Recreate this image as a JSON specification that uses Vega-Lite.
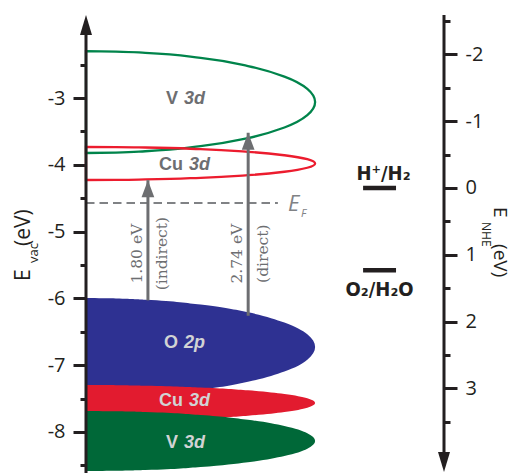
{
  "$schema": "https://vega.github.io/schema/vega-lite/v6.json",
  "width": 358,
  "height": 458,
  "autosize": {"type": "none"},
  "padding": {"left": 86, "top": 15, "right": 69, "bottom": 0},
  "background": "white",
  "config": {"view": {"stroke": null}, "font": "Open Sans"},
  "datasets": {
    "bands": [
      {"band": "V 3d", "state": "empty", "E": -2.297, "w": 0},
      {"band": "V 3d", "state": "empty", "E": -2.304, "w": 8.35},
      {"band": "V 3d", "state": "empty", "E": -2.323, "w": 16.56},
      {"band": "V 3d", "state": "empty", "E": -2.399, "w": 32},
      {"band": "V 3d", "state": "empty", "E": -2.521, "w": 45.25},
      {"band": "V 3d", "state": "empty", "E": -2.679, "w": 55.42},
      {"band": "V 3d", "state": "empty", "E": -2.863, "w": 61.82},
      {"band": "V 3d", "state": "empty", "E": -3.06, "w": 64},
      {"band": "V 3d", "state": "empty", "E": -3.257, "w": 61.82},
      {"band": "V 3d", "state": "empty", "E": -3.441, "w": 55.42},
      {"band": "V 3d", "state": "empty", "E": -3.599, "w": 45.25},
      {"band": "V 3d", "state": "empty", "E": -3.721, "w": 32},
      {"band": "V 3d", "state": "empty", "E": -3.797, "w": 16.56},
      {"band": "V 3d", "state": "empty", "E": -3.816, "w": 8.35},
      {"band": "V 3d", "state": "empty", "E": -3.823, "w": 0},
      {"band": "Cu 3d", "state": "empty", "E": -3.733, "w": 0},
      {"band": "Cu 3d", "state": "empty", "E": -3.735, "w": 8.35},
      {"band": "Cu 3d", "state": "empty", "E": -3.741, "w": 16.56},
      {"band": "Cu 3d", "state": "empty", "E": -3.766, "w": 32},
      {"band": "Cu 3d", "state": "empty", "E": -3.805, "w": 45.25},
      {"band": "Cu 3d", "state": "empty", "E": -3.857, "w": 55.42},
      {"band": "Cu 3d", "state": "empty", "E": -3.916, "w": 61.82},
      {"band": "Cu 3d", "state": "empty", "E": -3.98, "w": 64},
      {"band": "Cu 3d", "state": "empty", "E": -4.044, "w": 61.82},
      {"band": "Cu 3d", "state": "empty", "E": -4.104, "w": 55.42},
      {"band": "Cu 3d", "state": "empty", "E": -4.155, "w": 45.25},
      {"band": "Cu 3d", "state": "empty", "E": -4.194, "w": 32},
      {"band": "Cu 3d", "state": "empty", "E": -4.219, "w": 16.56},
      {"band": "Cu 3d", "state": "empty", "E": -4.225, "w": 8.35},
      {"band": "Cu 3d", "state": "empty", "E": -4.227, "w": 0},
      {"band": "O 2p", "state": "filled", "E": -5.994, "w": 0},
      {"band": "O 2p", "state": "filled", "E": -6.0, "w": 8.35},
      {"band": "O 2p", "state": "filled", "E": -6.019, "w": 16.56},
      {"band": "O 2p", "state": "filled", "E": -6.092, "w": 32},
      {"band": "O 2p", "state": "filled", "E": -6.209, "w": 45.25},
      {"band": "O 2p", "state": "filled", "E": -6.361, "w": 55.42},
      {"band": "O 2p", "state": "filled", "E": -6.538, "w": 61.82},
      {"band": "O 2p", "state": "filled", "E": -6.728, "w": 64},
      {"band": "O 2p", "state": "filled", "E": -6.918, "w": 61.82},
      {"band": "O 2p", "state": "filled", "E": -7.095, "w": 55.42},
      {"band": "O 2p", "state": "filled", "E": -7.247, "w": 45.25},
      {"band": "O 2p", "state": "filled", "E": -7.364, "w": 32},
      {"band": "O 2p", "state": "filled", "E": -7.437, "w": 16.56},
      {"band": "O 2p", "state": "filled", "E": -7.456, "w": 8.35},
      {"band": "O 2p", "state": "filled", "E": -7.462, "w": 0},
      {"band": "Cu 3d", "state": "filled", "E": -7.297, "w": 0},
      {"band": "Cu 3d", "state": "filled", "E": -7.299, "w": 8.35},
      {"band": "Cu 3d", "state": "filled", "E": -7.306, "w": 16.56},
      {"band": "Cu 3d", "state": "filled", "E": -7.333, "w": 32},
      {"band": "Cu 3d", "state": "filled", "E": -7.376, "w": 45.25},
      {"band": "Cu 3d", "state": "filled", "E": -7.432, "w": 55.42},
      {"band": "Cu 3d", "state": "filled", "E": -7.496, "w": 61.82},
      {"band": "Cu 3d", "state": "filled", "E": -7.566, "w": 64},
      {"band": "Cu 3d", "state": "filled", "E": -7.636, "w": 61.82},
      {"band": "Cu 3d", "state": "filled", "E": -7.7, "w": 55.42},
      {"band": "Cu 3d", "state": "filled", "E": -7.756, "w": 45.25},
      {"band": "Cu 3d", "state": "filled", "E": -7.799, "w": 32},
      {"band": "Cu 3d", "state": "filled", "E": -7.826, "w": 16.56},
      {"band": "Cu 3d", "state": "filled", "E": -7.833, "w": 8.35},
      {"band": "Cu 3d", "state": "filled", "E": -7.835, "w": 0},
      {"band": "V 3d", "state": "filled", "E": -7.686, "w": 0},
      {"band": "V 3d", "state": "filled", "E": -7.69, "w": 8.35},
      {"band": "V 3d", "state": "filled", "E": -7.701, "w": 16.56},
      {"band": "V 3d", "state": "filled", "E": -7.746, "w": 32},
      {"band": "V 3d", "state": "filled", "E": -7.818, "w": 45.25},
      {"band": "V 3d", "state": "filled", "E": -7.911, "w": 55.42},
      {"band": "V 3d", "state": "filled", "E": -8.019, "w": 61.82},
      {"band": "V 3d", "state": "filled", "E": -8.135, "w": 64},
      {"band": "V 3d", "state": "filled", "E": -8.251, "w": 61.82},
      {"band": "V 3d", "state": "filled", "E": -8.36, "w": 55.42},
      {"band": "V 3d", "state": "filled", "E": -8.453, "w": 45.25},
      {"band": "V 3d", "state": "filled", "E": -8.524, "w": 32},
      {"band": "V 3d", "state": "filled", "E": -8.569, "w": 16.56},
      {"band": "V 3d", "state": "filled", "E": -8.58, "w": 8.35},
      {"band": "V 3d", "state": "filled", "E": -8.584, "w": 0}
    ],
    "bandLabels": [
      {"atom": "V", "shell": "3d", "state": "empty", "E": -3.01},
      {"atom": "Cu", "shell": "3d", "state": "empty", "E": -4.0},
      {"atom": "O", "shell": "2p", "state": "filled", "E": -6.67},
      {"atom": "Cu", "shell": "3d", "state": "filled", "E": -7.54},
      {"atom": "V", "shell": "3d", "state": "filled", "E": -8.16}
    ],
    "transitions": [
      {"gap": "1.80 eV", "kind": "(indirect)", "k": 17.3, "from": -6.03, "to": -4.23},
      {"gap": "2.74 eV", "kind": "(direct)", "k": 45.3, "from": -6.26, "to": -3.52}
    ],
    "redox": [
      {"couple": "H⁺/H₂", "NHE": 0},
      {"couple": "O₂/H₂O", "NHE": 1.23}
    ]
  },
  "layer": [
    {
      "resolve": {"axis": {"y": "independent"}},
      "layer": [
        {
          "data": {"name": "bands"},
          "transform": [{"filter": "datum.state === 'filled' && datum.band === 'O 2p'"}],
          "mark": {"type": "area", "orient": "horizontal", "interpolate": "monotone", "color": "#2e3192"},
          "encoding": {
            "y": {
              "field": "E", "type": "quantitative",
              "scale": {"domain": [-8.614, -1.757], "nice": false, "zero": false},
              "axis": {
                "orient": "left",
                "values": [-8, -7, -6, -5, -4, -3],
                "labelExpr": "'' + datum.value",
                "tickSize": 13,
                "tickWidth": 3,
                "tickColor": "#231f20",
                "domain": false,
                "grid": false,
                "labelFont": "Open Sans",
                "labelFontSize": 20,
                "labelColor": "#231f20",
                "labelPadding": 8,
                "labelOverlap": false,
                "title": null
              }
            },
            "x": {"field": "w", "type": "quantitative", "scale": {"domain": [0, 100], "nice": false, "zero": false}, "axis": null},
            "x2": {"datum": 0}
          }
        },
        {
          "data": {"name": "bands"},
          "transform": [{"filter": "datum.state === 'filled' && datum.band === 'Cu 3d'"}],
          "mark": {"type": "area", "orient": "horizontal", "interpolate": "monotone", "color": "#e21b2f"},
          "encoding": {
            "y": {
              "field": "E", "type": "quantitative",
              "scale": {"domain": [-8.614, -1.757], "nice": false, "zero": false},
              "axis": {
                "orient": "left",
                "values": [-8.5, -7.5, -6.5, -5.5, -4.5, -3.5, -2.5],
                "labels": false,
                "tickSize": 6,
                "tickWidth": 3,
                "tickColor": "#231f20",
                "domain": false,
                "grid": false,
                "title": null
              }
            },
            "x": {"field": "w", "type": "quantitative", "scale": {"domain": [0, 100], "nice": false, "zero": false}, "axis": null},
            "x2": {"datum": 0}
          }
        },
        {
          "data": {"name": "bands"},
          "transform": [{"filter": "datum.state === 'filled' && datum.band === 'V 3d'"}],
          "mark": {"type": "area", "orient": "horizontal", "interpolate": "monotone", "color": "#006838"},
          "encoding": {
            "y": {"field": "E", "type": "quantitative", "scale": {"domain": [-8.614, -1.757], "nice": false, "zero": false}, "axis": null},
            "x": {"field": "w", "type": "quantitative", "scale": {"domain": [0, 100], "nice": false, "zero": false}, "axis": null},
            "x2": {"datum": 0}
          }
        },
        {
          "data": {"name": "bands"},
          "transform": [{"filter": "datum.state === 'empty' && datum.band === 'V 3d'"}],
          "mark": {"type": "area", "orient": "horizontal", "interpolate": "monotone", "fillOpacity": 0, "stroke": "#00844b", "strokeWidth": 2.3},
          "encoding": {
            "y": {"field": "E", "type": "quantitative", "scale": {"domain": [-8.614, -1.757], "nice": false, "zero": false}, "axis": null},
            "x": {"field": "w", "type": "quantitative", "scale": {"domain": [0, 100], "nice": false, "zero": false}, "axis": null},
            "x2": {"datum": 0}
          }
        },
        {
          "data": {"name": "bands"},
          "transform": [{"filter": "datum.state === 'empty' && datum.band === 'Cu 3d'"}],
          "mark": {"type": "area", "orient": "horizontal", "interpolate": "monotone", "fillOpacity": 0, "stroke": "#ec1c2e", "strokeWidth": 2.3},
          "encoding": {
            "y": {"field": "E", "type": "quantitative", "scale": {"domain": [-8.614, -1.757], "nice": false, "zero": false}, "axis": null},
            "x": {"field": "w", "type": "quantitative", "scale": {"domain": [0, 100], "nice": false, "zero": false}, "axis": null},
            "x2": {"datum": 0}
          }
        },
        {
          "data": {"values": [{"level": "Fermi", "E": -4.572}]},
          "mark": {"type": "rule", "color": "#808285", "strokeWidth": 2, "strokeDash": [8.5, 5]},
          "encoding": {
            "y": {"field": "E", "type": "quantitative", "scale": {"domain": [-8.614, -1.757], "nice": false, "zero": false}, "axis": null},
            "x": {"datum": 0, "type": "quantitative", "scale": {"domain": [0, 100], "nice": false, "zero": false}, "axis": null},
            "x2": {"datum": 53.6}
          }
        },
        {
          "data": {"values": [{"level": "Fermi", "E": -4.572}]},
          "mark": {"type": "text", "font": "Open Sans", "fontStyle": "italic", "fontSize": 22, "color": "#808285", "align": "left", "baseline": "alphabetic", "dx": 10, "dy": 8},
          "encoding": {
            "text": {"value": "E"},
            "y": {"field": "E", "type": "quantitative", "scale": {"domain": [-8.614, -1.757], "nice": false, "zero": false}, "axis": null},
            "x": {"datum": 53.6, "type": "quantitative", "scale": {"domain": [0, 100], "nice": false, "zero": false}, "axis": null}
          }
        },
        {
          "data": {"values": [{"level": "Fermi", "E": -4.572}]},
          "mark": {"type": "text", "font": "Open Sans", "fontStyle": "italic", "fontSize": 11, "color": "#808285", "align": "left", "baseline": "alphabetic", "dx": 23, "dy": 14},
          "encoding": {
            "text": {"value": "F"},
            "y": {"field": "E", "type": "quantitative", "scale": {"domain": [-8.614, -1.757], "nice": false, "zero": false}, "axis": null},
            "x": {"datum": 53.6, "type": "quantitative", "scale": {"domain": [0, 100], "nice": false, "zero": false}, "axis": null}
          }
        },
        {
          "data": {"name": "transitions"},
          "mark": {"type": "rule", "color": "#6d6e71", "strokeWidth": 3},
          "encoding": {
            "x": {"field": "k", "type": "quantitative", "scale": {"domain": [0, 100], "nice": false, "zero": false}, "axis": null},
            "y": {"field": "from", "type": "quantitative", "scale": {"domain": [-8.614, -1.757], "nice": false, "zero": false}, "axis": null},
            "y2": {"field": "to"}
          }
        },
        {
          "data": {"name": "transitions"},
          "mark": {"type": "point", "shape": "M0,0L0.75,2L-0.75,2Z", "size": 289, "filled": true, "opacity": 1, "color": "#6d6e71", "strokeWidth": 0},
          "encoding": {
            "x": {"field": "k", "type": "quantitative", "scale": {"domain": [0, 100], "nice": false, "zero": false}, "axis": null},
            "y": {"field": "to", "type": "quantitative", "scale": {"domain": [-8.614, -1.757], "nice": false, "zero": false}, "axis": null}
          }
        },
        {
          "data": {"name": "transitions"},
          "mark": {"type": "text", "font": "DejaVu Serif", "fontSize": 15.5, "color": "#6d6e71", "angle": 270, "align": "center", "baseline": "middle", "dy": -11},
          "encoding": {
            "text": {"field": "gap"},
            "x": {"field": "k", "type": "quantitative", "scale": {"domain": [0, 100], "nice": false, "zero": false}, "axis": null},
            "y": {"datum": -5.33, "type": "quantitative", "scale": {"domain": [-8.614, -1.757], "nice": false, "zero": false}, "axis": null}
          }
        },
        {
          "data": {"name": "transitions"},
          "mark": {"type": "text", "font": "DejaVu Serif", "fontSize": 15.5, "color": "#6d6e71", "angle": 270, "align": "center", "baseline": "middle", "dy": 14.5},
          "encoding": {
            "text": {"field": "kind"},
            "x": {"field": "k", "type": "quantitative", "scale": {"domain": [0, 100], "nice": false, "zero": false}, "axis": null},
            "y": {"datum": -5.33, "type": "quantitative", "scale": {"domain": [-8.614, -1.757], "nice": false, "zero": false}, "axis": null}
          }
        },
        {
          "data": {"name": "bandLabels"},
          "transform": [{"filter": "datum.atom !== 'Cu'"}],
          "mark": {"type": "text", "font": "Liberation Sans", "fontWeight": "bold", "fontSize": 18, "align": "right", "baseline": "middle", "dx": -6},
          "encoding": {
            "text": {"field": "atom"},
            "color": {"condition": {"test": "datum.state === 'filled'", "value": "#d1d3d4"}, "value": "#6d6e71"},
            "x": {"datum": 27.4, "type": "quantitative", "scale": {"domain": [0, 100], "nice": false, "zero": false}, "axis": null},
            "y": {"field": "E", "type": "quantitative", "scale": {"domain": [-8.614, -1.757], "nice": false, "zero": false}, "axis": null}
          }
        },
        {
          "data": {"name": "bandLabels"},
          "transform": [{"filter": "datum.atom !== 'Cu'"}],
          "mark": {"type": "text", "font": "Liberation Sans", "fontWeight": "bold", "fontStyle": "italic", "fontSize": 18, "align": "left", "baseline": "middle"},
          "encoding": {
            "text": {"field": "shell"},
            "color": {"condition": {"test": "datum.state === 'filled'", "value": "#d1d3d4"}, "value": "#6d6e71"},
            "x": {"datum": 27.4, "type": "quantitative", "scale": {"domain": [0, 100], "nice": false, "zero": false}, "axis": null},
            "y": {"field": "E", "type": "quantitative", "scale": {"domain": [-8.614, -1.757], "nice": false, "zero": false}, "axis": null}
          }
        },
        {
          "data": {"name": "bandLabels"},
          "transform": [{"filter": "datum.atom === 'Cu'"}],
          "mark": {"type": "text", "font": "Liberation Sans", "fontWeight": "bold", "fontSize": 18, "align": "right", "baseline": "middle", "dx": -6},
          "encoding": {
            "text": {"field": "atom"},
            "color": {"condition": {"test": "datum.state === 'filled'", "value": "#d1d3d4"}, "value": "#6d6e71"},
            "x": {"datum": 28.8, "type": "quantitative", "scale": {"domain": [0, 100], "nice": false, "zero": false}, "axis": null},
            "y": {"field": "E", "type": "quantitative", "scale": {"domain": [-8.614, -1.757], "nice": false, "zero": false}, "axis": null}
          }
        },
        {
          "data": {"name": "bandLabels"},
          "transform": [{"filter": "datum.atom === 'Cu'"}],
          "mark": {"type": "text", "font": "Liberation Sans", "fontWeight": "bold", "fontStyle": "italic", "fontSize": 18, "align": "left", "baseline": "middle"},
          "encoding": {
            "text": {"field": "shell"},
            "color": {"condition": {"test": "datum.state === 'filled'", "value": "#d1d3d4"}, "value": "#6d6e71"},
            "x": {"datum": 28.8, "type": "quantitative", "scale": {"domain": [0, 100], "nice": false, "zero": false}, "axis": null},
            "y": {"field": "E", "type": "quantitative", "scale": {"domain": [-8.614, -1.757], "nice": false, "zero": false}, "axis": null}
          }
        },
        {
          "data": {"values": [{"t": "E"}]},
          "mark": {"type": "text", "font": "Open Sans", "fontSize": 21, "color": "#231f20", "angle": 270, "align": "left", "baseline": "alphabetic"},
          "encoding": {
            "text": {"field": "t"},
            "x": {"datum": -15.64, "type": "quantitative", "scale": {"domain": [0, 100], "nice": false, "zero": false}, "axis": null},
            "y": {"datum": -5.74, "type": "quantitative", "scale": {"domain": [-8.614, -1.757], "nice": false, "zero": false}, "axis": null}
          }
        },
        {
          "data": {"values": [{"t": "vac"}]},
          "mark": {"type": "text", "font": "Open Sans", "fontSize": 13, "color": "#231f20", "angle": 270, "align": "left", "baseline": "alphabetic"},
          "encoding": {
            "text": {"field": "t"},
            "x": {"datum": -13.41, "type": "quantitative", "scale": {"domain": [0, 100], "nice": false, "zero": false}, "axis": null},
            "y": {"datum": -5.47, "type": "quantitative", "scale": {"domain": [-8.614, -1.757], "nice": false, "zero": false}, "axis": null}
          }
        },
        {
          "data": {"values": [{"t": "(eV)"}]},
          "mark": {"type": "text", "font": "Open Sans", "fontSize": 21, "color": "#231f20", "angle": 270, "align": "left", "baseline": "alphabetic"},
          "encoding": {
            "text": {"field": "t"},
            "x": {"datum": -15.64, "type": "quantitative", "scale": {"domain": [0, 100], "nice": false, "zero": false}, "axis": null},
            "y": {"datum": -5.216, "type": "quantitative", "scale": {"domain": [-8.614, -1.757], "nice": false, "zero": false}, "axis": null}
          }
        },
        {
          "data": {"values": [{"axis": "E_vac"}]},
          "mark": {"type": "rule", "color": "#231f20", "strokeWidth": 3},
          "encoding": {
            "x": {"datum": 0, "type": "quantitative", "scale": {"domain": [0, 100], "nice": false, "zero": false}, "axis": null},
            "y": {"datum": -1.95, "type": "quantitative", "scale": {"domain": [-8.614, -1.757], "nice": false, "zero": false}, "axis": null},
            "y2": {"datum": -8.614}
          }
        },
        {
          "data": {"values": [{"axis": "E_vac"}]},
          "mark": {"type": "point", "shape": "M0,0L0.6,2L-0.6,2Z", "size": 400, "filled": true, "opacity": 1, "color": "#231f20", "strokeWidth": 0},
          "encoding": {
            "x": {"datum": 0, "type": "quantitative", "scale": {"domain": [0, 100], "nice": false, "zero": false}, "axis": null},
            "y": {"datum": -1.757, "type": "quantitative", "scale": {"domain": [-8.614, -1.757], "nice": false, "zero": false}, "axis": null}
          }
        }
      ]
    },
    {
      "resolve": {"axis": {"y": "independent"}},
      "layer": [
        {
          "data": {"name": "redox"},
          "mark": {"type": "rule", "color": "#231f20", "strokeWidth": 4.5},
          "encoding": {
            "y": {
              "field": "NHE", "type": "quantitative",
              "scale": {"domain": [-2.59, 4.267], "reverse": true, "nice": false, "zero": false},
              "axis": {
                "orient": "right",
                "values": [-2, -1, 0, 1, 2, 3],
                "labelExpr": "'' + datum.value",
                "tickSize": 13,
                "tickWidth": 3,
                "tickColor": "#231f20",
                "domain": false,
                "grid": false,
                "labelFont": "Open Sans",
                "labelFontSize": 20,
                "labelColor": "#231f20",
                "labelPadding": 8,
                "labelOverlap": false,
                "title": null
              }
            },
            "x": {"datum": 77.4, "type": "quantitative", "scale": {"domain": [0, 100], "nice": false, "zero": false}, "axis": null},
            "x2": {"datum": 86.6}
          }
        },
        {
          "data": {"name": "redox"},
          "transform": [{"filter": "datum.NHE === 0"}],
          "mark": {"type": "text", "font": "Liberation Sans Narrow, DejaVu Sans Condensed, Roboto Condensed, sans-serif", "fontWeight": "bold", "fontSize": 20, "color": "#231f20", "align": "center", "baseline": "alphabetic", "dy": -8},
          "encoding": {
            "text": {"field": "couple"},
            "y": {
              "field": "NHE", "type": "quantitative",
              "scale": {"domain": [-2.59, 4.267], "reverse": true, "nice": false, "zero": false},
              "axis": {
                "orient": "right",
                "values": [-2.5, -1.5, -0.5, 0.5, 1.5, 2.5, 3.5],
                "labels": false,
                "tickSize": 6,
                "tickWidth": 3,
                "tickColor": "#231f20",
                "domain": false,
                "grid": false,
                "title": null
              }
            },
            "x": {"datum": 83.1, "type": "quantitative", "scale": {"domain": [0, 100], "nice": false, "zero": false}, "axis": null}
          }
        },
        {
          "data": {"name": "redox"},
          "transform": [{"filter": "datum.NHE !== 0"}],
          "mark": {"type": "text", "font": "Liberation Sans Narrow, DejaVu Sans Condensed, Roboto Condensed, sans-serif", "fontWeight": "bold", "fontSize": 20, "color": "#231f20", "align": "center", "baseline": "alphabetic", "dy": 26},
          "encoding": {
            "text": {"field": "couple"},
            "y": {"field": "NHE", "type": "quantitative", "scale": {"domain": [-2.59, 4.267], "reverse": true, "nice": false, "zero": false}, "axis": null},
            "x": {"datum": 82.0, "type": "quantitative", "scale": {"domain": [0, 100], "nice": false, "zero": false}, "axis": null}
          }
        },
        {
          "data": {"values": [{"axis": "E_NHE"}]},
          "mark": {"type": "rule", "color": "#231f20", "strokeWidth": 3},
          "encoding": {
            "x": {"datum": 100, "type": "quantitative", "scale": {"domain": [0, 100], "nice": false, "zero": false}, "axis": null},
            "y": {"datum": -2.59, "type": "quantitative", "scale": {"domain": [-2.59, 4.267], "reverse": true, "nice": false, "zero": false}, "axis": null},
            "y2": {"datum": 4.05}
          }
        },
        {
          "data": {"values": [{"axis": "E_NHE"}]},
          "mark": {"type": "point", "shape": "M0,0L0.6,-2L-0.6,-2Z", "size": 400, "filled": true, "opacity": 1, "color": "#231f20", "strokeWidth": 0},
          "encoding": {
            "x": {"datum": 100, "type": "quantitative", "scale": {"domain": [0, 100], "nice": false, "zero": false}, "axis": null},
            "y": {"datum": 4.252, "type": "quantitative", "scale": {"domain": [-2.59, 4.267], "reverse": true, "nice": false, "zero": false}, "axis": null}
          }
        },
        {
          "data": {"values": [{"t": "E"}]},
          "mark": {"type": "text", "font": "Open Sans", "fontSize": 19, "color": "#231f20", "angle": 90, "align": "left", "baseline": "alphabetic"},
          "encoding": {
            "text": {"field": "t"},
            "x": {"datum": 113.97, "type": "quantitative", "scale": {"domain": [0, 100], "nice": false, "zero": false}, "axis": null},
            "y": {"datum": 0.285, "type": "quantitative", "scale": {"domain": [-2.59, 4.267], "reverse": true, "nice": false, "zero": false}, "axis": null}
          }
        },
        {
          "data": {"values": [{"t": "NHE"}]},
          "mark": {"type": "text", "font": "Open Sans", "fontSize": 12, "color": "#231f20", "angle": 90, "align": "left", "baseline": "alphabetic"},
          "encoding": {
            "text": {"field": "t"},
            "x": {"datum": 110.6, "type": "quantitative", "scale": {"domain": [0, 100], "nice": false, "zero": false}, "axis": null},
            "y": {"datum": 0.51, "type": "quantitative", "scale": {"domain": [-2.59, 4.267], "reverse": true, "nice": false, "zero": false}, "axis": null}
          }
        },
        {
          "data": {"values": [{"t": "(eV)"}]},
          "mark": {"type": "text", "font": "Open Sans", "fontSize": 19, "color": "#231f20", "angle": 90, "align": "left", "baseline": "alphabetic"},
          "encoding": {
            "text": {"field": "t"},
            "x": {"datum": 113.97, "type": "quantitative", "scale": {"domain": [0, 100], "nice": false, "zero": false}, "axis": null},
            "y": {"datum": 0.839, "type": "quantitative", "scale": {"domain": [-2.59, 4.267], "reverse": true, "nice": false, "zero": false}, "axis": null}
          }
        }
      ]
    }
  ],
  "resolve": {"scale": {"y": "independent"}}
}
